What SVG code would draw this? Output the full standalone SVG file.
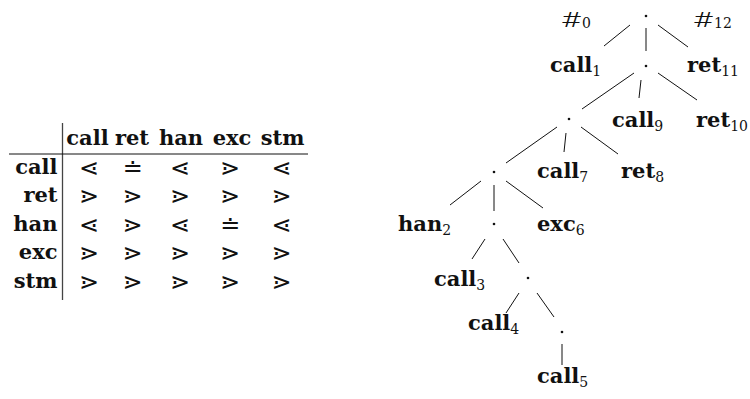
<svg xmlns="http://www.w3.org/2000/svg" width="750" height="399" viewBox="0 0 750 399">
  <style>
    .b { font-family: "DejaVu Serif", "Liberation Serif", serif; font-weight: bold; font-size: 21px; fill: #111; }
    .s { font-family: "DejaVu Serif", "Liberation Serif", serif; font-weight: normal; font-size: 14px; fill: #111; }
    .h { font-family: Roboto, "DejaVu Sans", sans-serif; font-weight: 300; font-size: 21px; fill: #111; }
    .rel { font-family: "DejaVu Sans", "Noto Sans", sans-serif; font-size: 24px; fill: #111; text-anchor: middle; }
    .hd { text-anchor: middle; }
    .rl { text-anchor: end; }
    .dot { fill: #111; }
    .edge { stroke: #111; stroke-width: 1; fill: none; }
  </style>

  <!-- precedence table -->
  <g id="table">
    <line x1="62.5" y1="123" x2="62.5" y2="300" stroke="#444" stroke-width="1.3"/>
    <line x1="9" y1="154" x2="308" y2="154" stroke="#111" stroke-width="1"/>
    <text class="b hd" x="87.5" y="145">call</text>
    <text class="b hd" x="132" y="145">ret</text>
    <text class="b hd" x="181" y="145">han</text>
    <text class="b hd" x="232" y="145">exc</text>
    <text class="b hd" x="282.5" y="145">stm</text>

    <text class="b rl" x="57.5" y="174">call</text>
    <text class="b rl" x="57.5" y="202">ret</text>
    <text class="b rl" x="57.5" y="231">han</text>
    <text class="b rl" x="57.5" y="259">exc</text>
    <text class="b rl" x="57.5" y="288">stm</text>

    <!-- row: call -->
    <text class="rel" x="89" y="176">⋖</text>
    <text class="rel" x="132.5" y="176">≐</text>
    <text class="rel" x="180" y="176">⋖</text>
    <text class="rel" x="230" y="176">⋗</text>
    <text class="rel" x="281.5" y="176">⋖</text>
    <!-- row: ret -->
    <text class="rel" x="89" y="204">⋗</text>
    <text class="rel" x="132.5" y="204">⋗</text>
    <text class="rel" x="180" y="204">⋗</text>
    <text class="rel" x="230" y="204">⋗</text>
    <text class="rel" x="281.5" y="204">⋗</text>
    <!-- row: han -->
    <text class="rel" x="89" y="233">⋖</text>
    <text class="rel" x="132.5" y="233">⋗</text>
    <text class="rel" x="180" y="233">⋖</text>
    <text class="rel" x="230" y="233">≐</text>
    <text class="rel" x="281.5" y="233">⋖</text>
    <!-- row: exc -->
    <text class="rel" x="89" y="261">⋗</text>
    <text class="rel" x="132.5" y="261">⋗</text>
    <text class="rel" x="180" y="261">⋗</text>
    <text class="rel" x="230" y="261">⋗</text>
    <text class="rel" x="281.5" y="261">⋗</text>
    <!-- row: stm -->
    <text class="rel" x="89" y="290">⋗</text>
    <text class="rel" x="132.5" y="290">⋗</text>
    <text class="rel" x="180" y="290">⋗</text>
    <text class="rel" x="230" y="290">⋗</text>
    <text class="rel" x="281.5" y="290">⋗</text>
  </g>

  <!-- tree connectors -->
  <g id="edges" class="edge">
    <line x1="630" y1="25" x2="604" y2="46"/>
    <line x1="646" y1="28" x2="646" y2="51"/>
    <line x1="658" y1="25" x2="688" y2="47"/>

    <line x1="634" y1="73" x2="582" y2="109"/>
    <line x1="641" y1="80" x2="639" y2="98"/>
    <line x1="658" y1="73" x2="697" y2="100"/>

    <line x1="557" y1="127" x2="506" y2="163"/>
    <line x1="566" y1="133" x2="564" y2="152"/>
    <line x1="581" y1="127" x2="618" y2="154"/>

    <line x1="481" y1="181" x2="450" y2="205"/>
    <line x1="494" y1="185" x2="494" y2="211"/>
    <line x1="506" y1="181" x2="543" y2="208"/>

    <line x1="485" y1="239" x2="472" y2="259"/>
    <line x1="503" y1="239" x2="519" y2="263"/>

    <line x1="519" y1="293" x2="506" y2="313"/>
    <line x1="537" y1="293" x2="554" y2="317"/>

    <line x1="562" y1="344" x2="562" y2="365"/>
  </g>

  <!-- tree nodes -->
  <g id="mark-start">
    <text class="h" transform="translate(561 27) scale(1.6 1)">#</text>
    <text class="s" x="582" y="28">0</text>
  </g>
  <g id="mark-end">
    <text class="h" transform="translate(693 27) scale(1.6 1)">#</text>
    <text class="s" x="714" y="28">12</text>
  </g>
  <g id="n-root"><circle class="dot" cx="646" cy="16" r="1.3"/></g>

  <g id="n-call1"><text class="b" x="550" y="72">call<tspan class="s" dy="3.5">1</tspan></text></g>
  <g id="n-d1"><circle class="dot" cx="646" cy="66" r="1.3"/></g>
  <g id="n-ret11"><text class="b" x="687" y="72">ret<tspan class="s" dy="3.5">11</tspan></text></g>

  <g id="n-d2"><circle class="dot" cx="569" cy="119" r="1.3"/></g>
  <g id="n-call9"><text class="b" x="612" y="127">call<tspan class="s" dy="3.5">9</tspan></text></g>
  <g id="n-ret10"><text class="b" x="696" y="127">ret<tspan class="s" dy="3.5">10</tspan></text></g>

  <g id="n-d3"><circle class="dot" cx="494" cy="172" r="1.3"/></g>
  <g id="n-call7"><text class="b" x="537" y="178">call<tspan class="s" dy="3.5">7</tspan></text></g>
  <g id="n-ret8"><text class="b" x="621" y="178">ret<tspan class="s" dy="3.5">8</tspan></text></g>

  <g id="n-han2"><text class="b" x="398" y="231">han<tspan class="s" dy="3.5">2</tspan></text></g>
  <g id="n-d4"><circle class="dot" cx="494" cy="224" r="1.3"/></g>
  <g id="n-exc6"><text class="b" x="537" y="231">exc<tspan class="s" dy="3.5">6</tspan></text></g>

  <g id="n-call3"><text class="b" x="434" y="286">call<tspan class="s" dy="3.5">3</tspan></text></g>
  <g id="n-d5"><circle class="dot" cx="528" cy="278" r="1.3"/></g>

  <g id="n-call4"><text class="b" x="468" y="330">call<tspan class="s" dy="3.5">4</tspan></text></g>
  <g id="n-d6"><circle class="dot" cx="562" cy="332" r="1.3"/></g>

  <g id="n-call5"><text class="b" x="537" y="383">call<tspan class="s" dy="3.5">5</tspan></text></g>
</svg>
